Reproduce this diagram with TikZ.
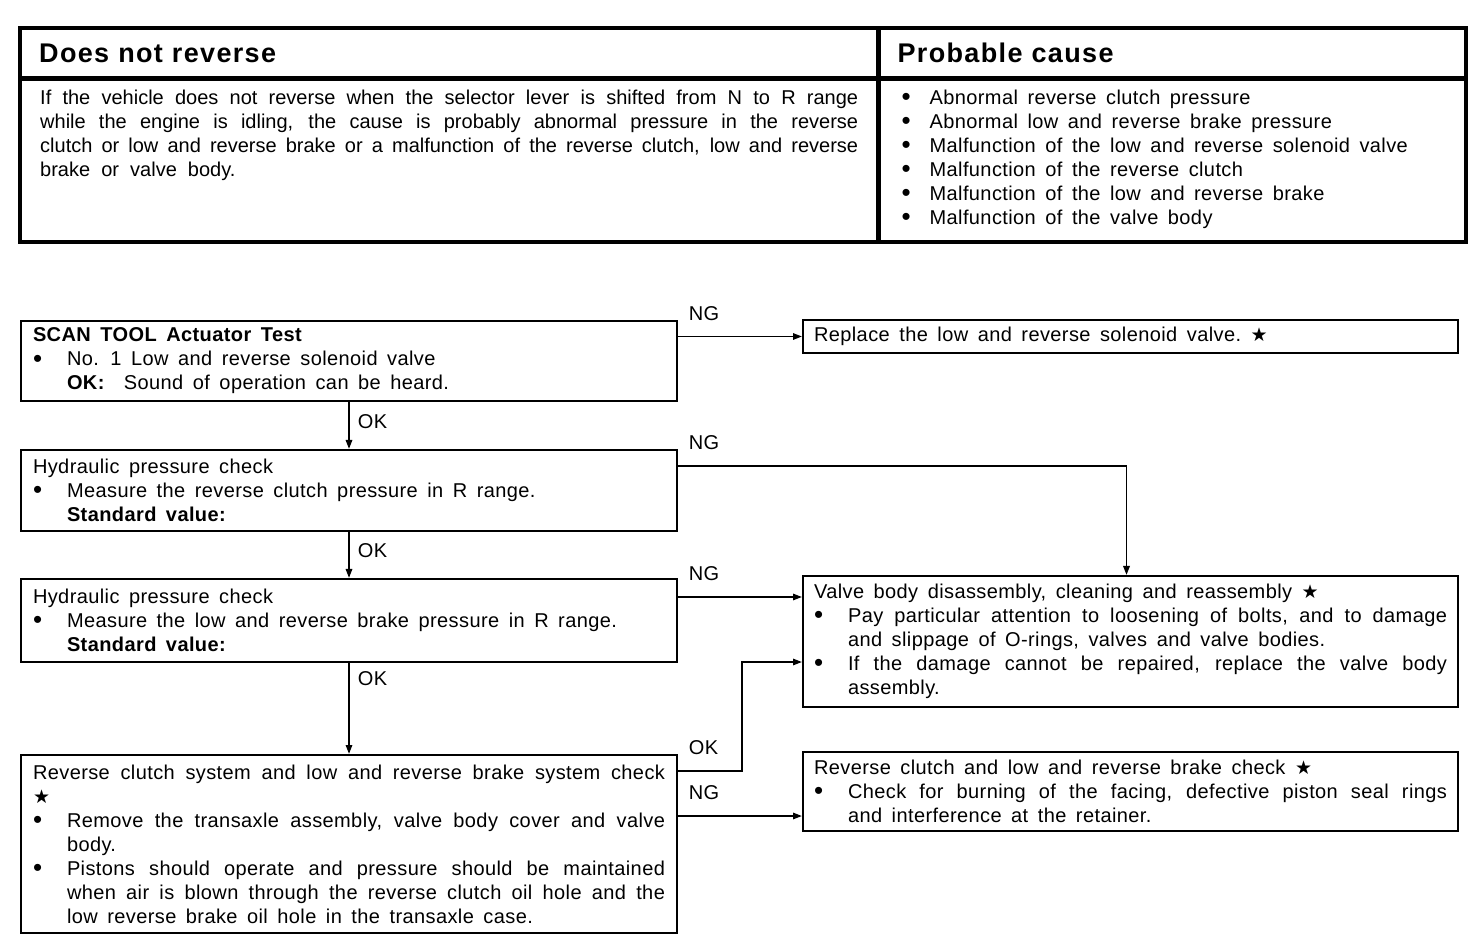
\documentclass[tikz,border=0pt]{standalone}
\usepackage{fontspec}
\setmainfont{Liberation Sans}[LetterSpace=2, WordSpace=1.6]
\newfontfamily\plainsans{Liberation Sans}
\newfontfamily\symfont{DejaVu Sans}
\usetikzlibrary{arrows.meta, positioning, calc}
\newcommand{\strmark}{{\symfont\fontsize{9.5}{12}\selectfont ★}}
\newcommand{\bulitem}[2][17pt]{\par\noindent\hangindent=#1\hangafter=1\makebox[#1][l]{\raisebox{-0.6pt}{\fontsize{13}{12}\selectfont\textbullet}}#2\par}
\newcommand{\subline}[2][17pt]{\par\noindent\hspace*{#1}#2\par}
\tikzset{
  every picture/.style={font=\fontsize{10}{12}\selectfont, line width=1pt},
  cellhead/.style={draw, line width=1.2pt, anchor=north west, minimum height=24pt, inner xsep=9pt, align=left, font=\fontsize{13.5}{15}\selectfont\bfseries\addfontfeature{LetterSpace=5}},
  cellbody/.style={draw, line width=1.2pt, anchor=north west, inner xsep=#1, inner ysep=5pt},
  flowbox/.style={draw, line width=1pt, anchor=north west, align=justify, text width=316pt, inner xsep=6pt, inner ysep=1pt},
  rbox/.style={flowbox, text width=316.5pt, inner xsep=5.5pt},
  arr/.style={-{Triangle[length=4.5pt, width=3.2pt]}, line width=0.9pt},
  lbl/.style={anchor=south west, inner sep=0pt, xshift=5pt, yshift=7.5pt},
  vlbl/.style={anchor=west, inner sep=0pt, xshift=4pt},
}
\begin{document}
\begin{tikzpicture}[x=0.5pt, y=-0.5pt]
  \useasboundingbox (0,0) rectangle (1472,940);
  \node[cellhead, text width=410pt] (hdsym) at (20,28) {Does not reverse};
  \node[cellhead, text width=275pt] (hdcause) at (hdsym.north east) {Probable cause};
  \node[cellbody=9.5pt] (symbody) at (hdsym.south west) {\parbox[t][71pt][t]{409pt}{\plainsans If the vehicle does not reverse when the selector lever is shifted from N to R range\linebreak while the engine is idling, the cause is probably abnormal pressure in the reverse\linebreak clutch or low and reverse brake or a malfunction of the reverse clutch, low and reverse\linebreak brake\ \ or\ \ valve\ \ body.}};
  \node[cellbody=11pt] (causebody) at (hdcause.south west) {\parbox[t][71pt][t]{271pt}{%
    \bulitem[14pt]{Abnormal reverse clutch pressure}
    \bulitem[14pt]{Abnormal low and reverse brake pressure}
    \bulitem[14pt]{Malfunction of the low and reverse solenoid valve}
    \bulitem[14pt]{Malfunction of the reverse clutch}
    \bulitem[14pt]{Malfunction of the low and reverse brake}
    \bulitem[14pt]{Malfunction of the valve body}}};
  \draw[line width=1.6pt] (hdsym.north west) rectangle (causebody.south east);

  \node[flowbox, minimum height=40pt] (scan) at (20,320) {\textbf{SCAN TOOL Actuator Test}\bulitem{No. 1 Low and reverse solenoid valve}\subline{\textbf{OK:}\ \ Sound of operation can be heard.}};
  \node[flowbox, minimum height=40.5pt] (hydclutch) at (20,449) {Hydraulic pressure check\bulitem{Measure the reverse clutch pressure in R range.}\subline{\textbf{Standard value:}}};
  \node[flowbox, minimum height=41.5pt] (hydbrake) at (20,578) {Hydraulic pressure check\bulitem{Measure the low and reverse brake pressure in R range.}\subline{\textbf{Standard value:}}};
  \node[flowbox, minimum height=89pt] (syscheck) at (20,754) {Reverse clutch system and low and reverse brake system check\linebreak\strmark\bulitem{Remove the transaxle assembly, valve body cover and valve\linebreak body.}\bulitem{Pistons should operate and pressure should be maintained\linebreak when air is blown through the reverse clutch oil hole and the\linebreak low reverse brake oil hole in the transaxle case.}};
  \node[rbox, minimum height=16.5pt] (replace) at (802,319) {Replace the low and reverse solenoid valve.\ \strmark};
  \node[rbox, minimum height=65.5pt] (valve) at (802,575) {Valve body disassembly, cleaning and reassembly \strmark\bulitem{Pay particular attention to loosening of bolts, and to damage\linebreak and slippage of O-rings, valves and valve bodies.}\bulitem{If the damage cannot be repaired, replace the valve body\linebreak assembly.}};
  \node[rbox, minimum height=39.5pt] (rcheck) at (802,751) {Reverse clutch and low and reverse brake check \strmark\bulitem{Check for burning of the facing, defective piston seal rings\linebreak and interference at the retainer.}};

  \coordinate (ngclutch) at ([yshift=-8.5pt]hydclutch.north east);
  \coordinate (ngbrake) at ([yshift=-9.5pt]hydbrake.north east);
  \coordinate (oksys) at ([yshift=-8.5pt]syscheck.north east);
  \coordinate (ngsys) at ([yshift=-31pt]syscheck.north east);
  \coordinate (okvalve) at ([yshift=-43.5pt]valve.north west);
  \draw[arr] (scan.east |- replace.west) -- node[lbl, pos=0] {NG} (replace.west);
  \draw[arr] (scan.south) -- node[vlbl, pos=0.41] {OK} (hydclutch.north);
  \draw[arr] (ngclutch) -| node[lbl, pos=0] {NG} ([xshift=-2pt]valve.north);
  \draw[arr] (hydclutch.south) -- node[vlbl, pos=0.4] {OK} (hydbrake.north);
  \draw[arr] (ngbrake) -- node[lbl, pos=0] {NG} (ngbrake -| valve.west);
  \draw[arr] (hydbrake.south) -- node[vlbl, pos=0.17] {OK} (syscheck.north);
  \draw[arr] (oksys) -- node[lbl, pos=0] {OK} ++(32pt,0) |- (okvalve);
  \draw[arr] (ngsys) -- node[lbl, pos=0] {NG} (ngsys -| rcheck.west);
\end{tikzpicture}
\end{document}
